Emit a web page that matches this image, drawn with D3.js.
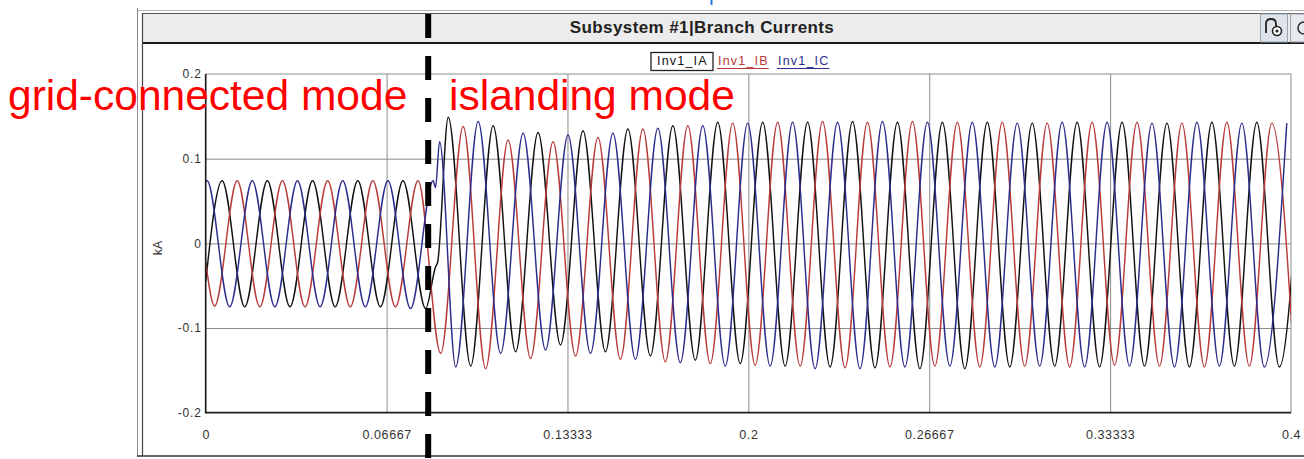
<!DOCTYPE html>
<html><head><meta charset="utf-8">
<script src="https://cdn.jsdelivr.net/npm/d3@7"></script>
<style>
html,body{margin:0;padding:0;background:#fff;}
svg{display:block;font-family:"Liberation Sans",Arial,sans-serif;}
</style></head><body>
<svg id="chart" width="1304" height="459"></svg>
<script>
// Axis ticks and their printed labels
const xTickValues = [0, 0.066667, 0.133333, 0.2, 0.266667, 0.333333, 0.4];
const xTickLabels = ["0", "0.06667", "0.13333", "0.2", "0.26667", "0.33333", "0.4"];
const yTickValues = [0.2, 0.1, 0, -0.1, -0.2];
const yTickLabels = ["0.2", "0.1", "0", "-0.1", "-0.2"];

const seriesNames = ["Inv1_IA", "Inv1_IB", "Inv1_IC"];
const seriesColors = ["#111111", "#b83a3a", "#2c2c8c"];

// Waveform timing: crests/troughs of the three phases follow each other every 1/6 cycle
const GRID_HZ = 60;
const ISLAND_HZ = 60.4;
const FIRST_CREST = 0.0005;   // first Inv1_IC crest (s)
const SWITCH_EVENT = 32;      // crest index from which the islanded frequency applies
const SWITCH_TIME = 0.082;    // islanding instant (s)
const phaseOffsets = [2, 1, 0]; // IA, IB, IC position in the crest sequence

// Values at t = 0 (kA)
const startValues = [-0.045, -0.022, 0.072];

// Alternating crest / trough values (kA), one per half cycle
const peaksIA = [0.074, -0.075, 0.074, -0.075, 0.074, -0.075, 0.074, -0.075, 0.074, -0.077,
  0.149, -0.145, 0.139, -0.128, 0.131, -0.120, 0.133, -0.128, 0.135, -0.133,
  0.139, -0.138, 0.143, -0.142, 0.143, -0.145, 0.143, -0.146, 0.144, -0.147,
  0.143, -0.148, 0.143, -0.148, 0.143, -0.146, 0.142, -0.145, 0.143, -0.146,
  0.143, -0.145, 0.142, -0.146, 0.143, -0.145, 0.143, -0.146, 0.142];
const peaksIB = [-0.074, 0.074, -0.075, 0.074, -0.075, 0.074, -0.075, 0.074, -0.075, 0.074,
  -0.130, 0.138, -0.148, 0.122, -0.136, 0.120, -0.133, 0.125, -0.137, 0.135,
  -0.140, 0.139, -0.142, 0.142, -0.144, 0.143, -0.145, 0.144, -0.147, 0.143,
  -0.146, 0.144, -0.145, 0.143, -0.146, 0.143, -0.145, 0.142, -0.146, 0.143,
  -0.144, 0.143, -0.145, 0.142, -0.146, 0.143, -0.145, 0.142, -0.146];
const peaksIC = [0.074, -0.075, 0.074, -0.075, 0.074, -0.075, 0.074, -0.075, 0.074, -0.077,
  0.074, -0.146, 0.144, -0.130, 0.130, -0.126, 0.128, -0.130, 0.130, -0.137,
  0.136, -0.141, 0.139, -0.145, 0.142, -0.145, 0.143, -0.148, 0.143, -0.148,
  0.144, -0.146, 0.143, -0.145, 0.143, -0.146, 0.142, -0.145, 0.143, -0.146,
  0.143, -0.145, 0.142, -0.146, 0.143, -0.145, 0.142, -0.146, 0.142];

// Extra points during the switching disturbance [t (s), kA]
const switchIA = [[0.0847, -0.028], [0.0855, -0.022]];
const switchIB = [];
const switchIC = [[0.0847, 0.066], [0.0862, 0.120]];

const W = 1304, H = 459;
const plot = {left: 205.7, right: 1291, top: 74, bottom: 412.7};

const svg = d3.select("#chart");
svg.append("rect").attr("width", W).attr("height", H).attr("fill", "#fff");

// ---- window chrome ----
svg.append("line").attr("x1", 137).attr("x2", W).attr("y1", 10.5).attr("y2", 10.5)
  .attr("stroke", "#b4b4b4").attr("stroke-width", 1);
svg.append("line").attr("x1", 711.5).attr("x2", 711.5).attr("y1", 0).attr("y2", 5)
  .attr("stroke", "#2a78d6").attr("stroke-width", 2);
svg.append("line").attr("x1", 137.5).attr("x2", 137.5).attr("y1", 8).attr("y2", 457)
  .attr("stroke", "#8a8a8a").attr("stroke-width", 1);
svg.append("rect").attr("x", 142.5).attr("y", 13.5).attr("width", W - 142).attr("height", 29)
  .attr("fill", "#ececec").attr("stroke", "#555").attr("stroke-width", 1);
svg.append("line").attr("x1", 142).attr("x2", W).attr("y1", 43).attr("y2", 43)
  .attr("stroke", "#1a1a1a").attr("stroke-width", 2);
svg.append("line").attr("x1", 142.5).attr("x2", 142.5).attr("y1", 13).attr("y2", 456)
  .attr("stroke", "#444").attr("stroke-width", 1.2);
svg.append("line").attr("x1", 137).attr("x2", W).attr("y1", 456).attr("y2", 456)
  .attr("stroke", "#333").attr("stroke-width", 1.5);

svg.append("text").attr("x", 702).attr("y", 33).attr("text-anchor", "middle")
  .attr("font-size", 17).attr("font-weight", "bold").attr("letter-spacing", 0.4)
  .attr("fill", "#222").text("Subsystem #1|Branch Currents");

// title bar buttons
const btn = svg.append("g");
btn.append("rect").attr("x", 1260.5).attr("y", 14).attr("width", 27).attr("height", 28)
  .attr("fill", "#dfe4ea").attr("stroke", "#9aa3ad");
btn.append("path").attr("d", "M1266,33 L1266,24 Q1266,19 1271,19 Q1276,19 1276,24 L1276,27")
  .attr("fill", "none").attr("stroke", "#222").attr("stroke-width", 1.8);
btn.append("circle").attr("cx", 1277).attr("cy", 31).attr("r", 4.5)
  .attr("fill", "#fff").attr("stroke", "#222").attr("stroke-width", 1.6);
btn.append("circle").attr("cx", 1277).attr("cy", 31).attr("r", 1.6).attr("fill", "#222");
btn.append("rect").attr("x", 1290.5).attr("y", 14).attr("width", 20).attr("height", 28)
  .attr("fill", "#e6e9ee").attr("stroke", "#9aa3ad");
btn.append("path").attr("d", "M1304,22 A6,6 0 1,0 1304,34")
  .attr("fill", "none").attr("stroke", "#333").attr("stroke-width", 1.6);

// ---- scales ----
const x = d3.scaleLinear().domain([0, 0.4]).range([plot.left, plot.right]);
const y = d3.scaleLinear().domain([-0.2, 0.2]).range([plot.bottom, plot.top]);

// grid lines
svg.append("g").attr("transform", `translate(0,${plot.bottom})`)
  .call(d3.axisBottom(x).tickValues(xTickValues.slice(1, -1)).tickSize(-(plot.bottom - plot.top)).tickFormat(""))
  .call(g => g.select(".domain").remove())
  .call(g => g.selectAll("line").attr("stroke", "#8c8c8c").attr("stroke-width", 1));
svg.append("g").attr("transform", `translate(${plot.left},0)`)
  .call(d3.axisLeft(y).tickValues(yTickValues.slice(1, -1)).tickSize(-(plot.right - plot.left)).tickFormat(""))
  .call(g => g.select(".domain").remove())
  .call(g => g.selectAll("line").attr("stroke", "#8c8c8c").attr("stroke-width", 1));

// plot frame
svg.append("line").attr("x1", plot.left).attr("x2", plot.right).attr("y1", plot.top).attr("y2", plot.top)
  .attr("stroke", "#8c8c8c");
svg.append("line").attr("x1", plot.right).attr("x2", plot.right).attr("y1", plot.top).attr("y2", plot.bottom)
  .attr("stroke", "#8c8c8c");

// tick labels
svg.append("g").attr("transform", `translate(0,${plot.bottom})`)
  .call(d3.axisBottom(x).tickValues(xTickValues).tickSize(0).tickPadding(17)
    .tickFormat((d, i) => xTickLabels[i]))
  .call(g => g.select(".domain").remove())
  .call(g => g.selectAll("text").attr("font-size", 12.5).attr("letter-spacing", 0.6)
    .attr("fill", "#333").attr("font-family", "Liberation Sans, Arial, sans-serif"));
svg.append("g").attr("transform", `translate(${plot.left},0)`)
  .call(d3.axisLeft(y).tickValues(yTickValues).tickSize(0).tickPadding(4)
    .tickFormat((d, i) => yTickLabels[i]))
  .call(g => g.select(".domain").remove())
  .call(g => g.selectAll("text").attr("font-size", 12).attr("letter-spacing", 0.8)
    .attr("fill", "#333").attr("font-family", "Liberation Sans, Arial, sans-serif"));

svg.append("text").attr("transform", "translate(162,248) rotate(-90)")
  .attr("text-anchor", "middle").attr("font-size", 12.5).attr("fill", "#333").text("kA");

// ---- waveforms ----
function crestTime(n) {
  const tSwitch = FIRST_CREST + SWITCH_EVENT / (6 * GRID_HZ);
  return n <= SWITCH_EVENT
    ? FIRST_CREST + n / (6 * GRID_HZ)
    : tSwitch + (n - SWITCH_EVENT) / (6 * ISLAND_HZ);
}
const peakSets = [peaksIA, peaksIB, peaksIC];
const switchSets = [switchIA, switchIB, switchIC];
const series = peakSets.map((peaks, s) => {
  const pts = [[0, startValues[s]]];
  peaks.forEach((v, k) => pts.push([crestTime(3 * k + phaseOffsets[s]), v]));
  switchSets[s].forEach(p => pts.push(p));
  pts.sort((a, b) => a[0] - b[0]);
  return pts;
});

svg.append("clipPath").attr("id", "plotClip").append("rect")
  .attr("x", plot.left).attr("y", plot.top)
  .attr("width", plot.right - plot.left).attr("height", plot.bottom - plot.top);

const line = d3.line().x(d => x(d[0])).y(d => y(d[1])).curve(d3.curveMonotoneX);
svg.append("g").attr("clip-path", "url(#plotClip)")
  .selectAll("path").data(series).join("path")
  .attr("d", line).attr("fill", "none")
  .attr("stroke", (d, i) => seriesColors[i]).attr("stroke-width", 1.45)
  .attr("stroke-linejoin", "round");

// axis lines (left and bottom)
svg.append("line").attr("x1", plot.left).attr("x2", plot.left).attr("y1", plot.top).attr("y2", plot.bottom + 0.8)
  .attr("stroke", "#1e1e1e").attr("stroke-width", 1.7);
svg.append("line").attr("x1", plot.left).attr("x2", plot.right).attr("y1", plot.bottom).attr("y2", plot.bottom)
  .attr("stroke", "#1e1e1e").attr("stroke-width", 1.7);

// ---- legend ----
const legendX = [657, 718, 778];
svg.append("rect").attr("x", 651).attr("y", 52.5).attr("width", 62).attr("height", 18)
  .attr("fill", "#fff").attr("stroke", "#222").attr("stroke-width", 1.3);
seriesNames.forEach((name, i) => {
  const t = svg.append("text").attr("x", legendX[i]).attr("y", 64.5)
    .attr("font-size", 12.5).attr("letter-spacing", 1.2)
    .attr("fill", seriesColors[i]).text(name);
  if (i > 0) {
    const w = t.node().getComputedTextLength();
    svg.append("line").attr("x1", legendX[i] - 1).attr("x2", legendX[i] + w)
      .attr("y1", 68.5).attr("y2", 68.5).attr("stroke", seriesColors[i]).attr("stroke-width", 1.2);
  }
});

// ---- operating-mode annotations ----
svg.append("text").attr("x", 8).attr("y", 109.5).attr("font-size", 42.5)
  .attr("fill", "#ff0000").text("grid-connected mode");
svg.append("text").attr("x", 449).attr("y", 109.5).attr("font-size", 42.5)
  .attr("fill", "#ff0000").text("islanding mode");

svg.append("line").attr("x1", x(SWITCH_TIME)).attr("x2", x(SWITCH_TIME))
  .attr("y1", 14).attr("y2", H)
  .attr("stroke", "#000").attr("stroke-width", 6).attr("stroke-dasharray", "24 18");
</script>
</body></html>
